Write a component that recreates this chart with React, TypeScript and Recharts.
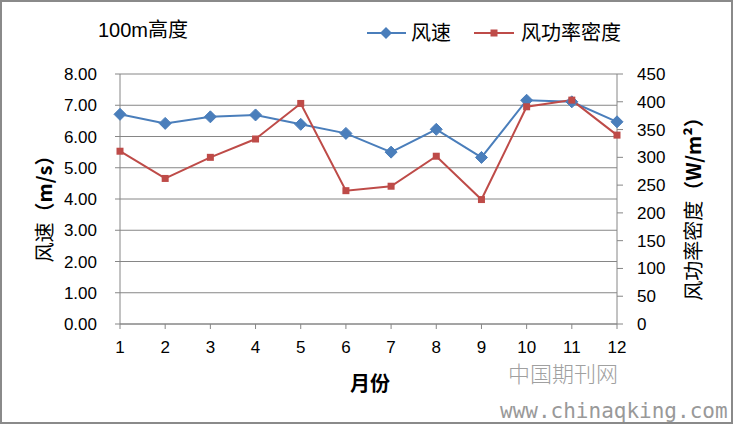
import { LineChart, Line, XAxis, YAxis, CartesianGrid } from "recharts";

const months = ["1", "2", "3", "4", "5", "6", "7", "8", "9", "10", "11", "12"];
const windSpeed = [6.71, 6.42, 6.63, 6.69, 6.39, 6.1, 5.5, 6.23, 5.33, 7.16, 7.11, 6.47];
const powerDensity = [311, 262, 300, 333, 397, 240, 248, 302, 224, 391, 403, 340];
const leftTicks = [0, 1, 2, 3, 4, 5, 6, 7, 8];
const rightTicks = [0, 50, 100, 150, 200, 250, 300, 350, 400, 450];

const data = months.map((m, i) => ({ month: m, speed: windSpeed[i], power: powerDensity[i] }));

const BLUE = "#4A7EBB";
const RED = "#BE4B48";
const AXIS = "#868686";
const CJK = '"Noto Sans CJK SC", "Liberation Sans", sans-serif';
const NUM = '"Liberation Sans", Arial, sans-serif';

const Diamond = (p: any) => {
  const { cx, cy, index } = p;
  if (cx == null || cy == null) return <g key={`dd${index}`} />;
  const r = 6;
  return (
    <path
      key={`dd${index}`}
      d={`M${cx},${cy - r}L${cx + r},${cy}L${cx},${cy + r}L${cx - r},${cy}Z`}
      fill={BLUE}
      stroke={BLUE}
    />
  );
};

const Square = (p: any) => {
  const { cx, cy, index } = p;
  if (cx == null || cy == null) return <g key={`sq${index}`} />;
  const s = 3.5;
  return <rect key={`sq${index}`} x={cx - s} y={cy - s} width={s * 2} height={s * 2} fill={RED} />;
};

const tickStyle = { fill: "#000", fontSize: 17, fontFamily: NUM };

export default function App() {
  return (
    <div
      style={{
        position: "absolute",
        left: 0,
        top: 0,
        width: 733,
        height: 424,
        background: "#fff",
        boxSizing: "border-box",
        border: "2px solid #8a8a8a",
        overflow: "hidden",
      }}
    >
      <div style={{ position: "absolute", left: -2, top: -2 }}>
        <LineChart width={733} height={424} data={data} margin={{ top: 74, right: 0, bottom: 0, left: 0 }}>
          <CartesianGrid horizontal vertical={false} stroke={AXIS} strokeWidth={1} />
          <XAxis
            dataKey="month"
            interval={0}
            height={100}
            tickSize={5}
            tickMargin={12}
            stroke={AXIS}
            tick={tickStyle}
          />
          <YAxis
            domain={[0, 8]}
            ticks={leftTicks}
            width={120}
            tickSize={5}
            tickMargin={18}
            stroke={AXIS}
            tick={tickStyle}
            tickFormatter={(v: number) => v.toFixed(2)}
          />
          <YAxis
            yAxisId="right"
            orientation="right"
            domain={[0, 450]}
            ticks={rightTicks}
            width={116}
            tickSize={6}
            tickMargin={14}
            stroke={AXIS}
            tick={{ ...tickStyle, textAnchor: "start" }}
          />
          <Line
            dataKey="speed"
            stroke={BLUE}
            strokeWidth={2}
            dot={Diamond}
            activeDot={false}
            isAnimationActive={false}
          />
          <Line
            yAxisId="right"
            dataKey="power"
            stroke={RED}
            strokeWidth={2}
            dot={Square}
            activeDot={false}
            isAnimationActive={false}
          />
        </LineChart>

        <svg width={733} height={424} style={{ position: "absolute", left: 0, top: 0, pointerEvents: "none" }}>
          <text x={98} y={37} fontSize={20} fontFamily={CJK} fill="#000">
            <tspan fontFamily={NUM}>100m</tspan>高度
          </text>

          <line x1={367} y1={33} x2={406} y2={33} stroke={BLUE} strokeWidth={2} />
          <path d="M386,27L392,33L386,39L380,33Z" fill={BLUE} />
          <text x={411} y={40} fontSize={20} fontFamily={CJK} fill="#000">风速</text>
          <line x1={474} y1={33} x2={514} y2={33} stroke={RED} strokeWidth={2} />
          <rect x={490.5} y={29.5} width={7} height={7} fill={RED} />
          <text x={521} y={40} fontSize={20} fontFamily={CJK} fill="#000">风功率密度</text>

          <text
            x={43}
            y={204}
            transform="rotate(-90 43 204)"
            textAnchor="middle"
            dominantBaseline="central"
            fontSize={20}
            fontFamily={CJK}
            fill="#000"
          >
            风速<tspan fontWeight="bold">（m/s）</tspan>
          </text>
          <text
            x={692}
            y={204}
            transform="rotate(-90 692 204)"
            textAnchor="middle"
            dominantBaseline="central"
            fontSize={20}
            fontFamily={CJK}
            fill="#000"
          >
            风功率密度<tspan fontWeight="bold">（W/m²）</tspan>
          </text>

          <text x={370} y={391} textAnchor="middle" fontSize={20} fontWeight="bold" fontFamily={CJK} fill="#000">
            月份
          </text>

          <text x={508} y={382} fontSize={22} fontFamily={CJK} fill="#a0a0a0" fontWeight={300}>
            中国期刊网
          </text>
          <text x={500} y={418} fontSize={21} fontFamily='"DejaVu Sans Mono", monospace' fill="#999">
            www.chinaqking.com
          </text>
        </svg>
      </div>
    </div>
  );
}
